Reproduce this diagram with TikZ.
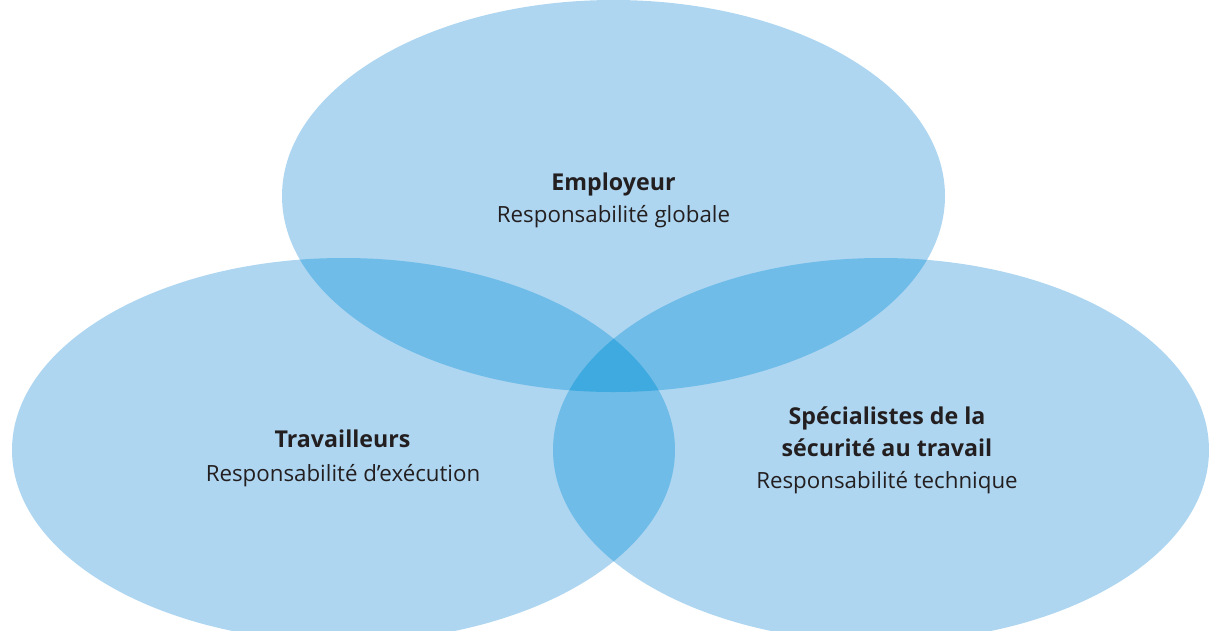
\documentclass[tikz,border=0pt]{standalone}
\usepackage{fontspec}
\setmainfont{Open Sans}
\definecolor{base}{HTML}{AED6F1}
\definecolor{two}{HTML}{6FBCE8}
\definecolor{three}{HTML}{3FAADF}
\definecolor{ink}{HTML}{231F20}
\begin{document}
\begin{tikzpicture}[x=1pt,y=-1pt,
  lbl/.style={anchor=base,inner sep=0pt,text=ink,font=\fontsize{22.3}{30}\selectfont},
  hdr/.style={lbl,font=\fontsize{23.2}{30}\selectfont\bfseries}]
\useasboundingbox (0,0) rectangle (1209,630);
\clip (0,0) rectangle (1209,630);
\def\T{(613.5,196) ellipse [x radius=331.5, y radius=196]}
\def\L{(343.5,450) ellipse [x radius=331.5, y radius=192]}
\def\R{(881,450) ellipse [x radius=328, y radius=192]}
\fill[base] \T;
\fill[base] \L;
\fill[base] \R;
\begin{scope}\clip \T; \fill[two] \L; \fill[two] \R;\end{scope}
\begin{scope}\clip \L; \fill[two] \R;\end{scope}
\begin{scope}\clip \T; \clip \L; \fill[three] \R;\end{scope}
\node[hdr] (emp) at (613.5,190.7) {Employeur};
\node[lbl] (empr) at (613.5,222) {Responsabilité globale};
\node[hdr] (trav) at (342.5,447.3) {Travailleurs};
\node[lbl] (travr) at (343,481) {Responsabilité d’exécution};
\node[hdr] (spec1) at (887,424.3) {Spécialistes de la};
\node[hdr] (spec2) at (887,456.7) {sécurité au travail};
\node[lbl] (specr) at (887,488.3) {Responsabilité technique};
\end{tikzpicture}
\end{document}
